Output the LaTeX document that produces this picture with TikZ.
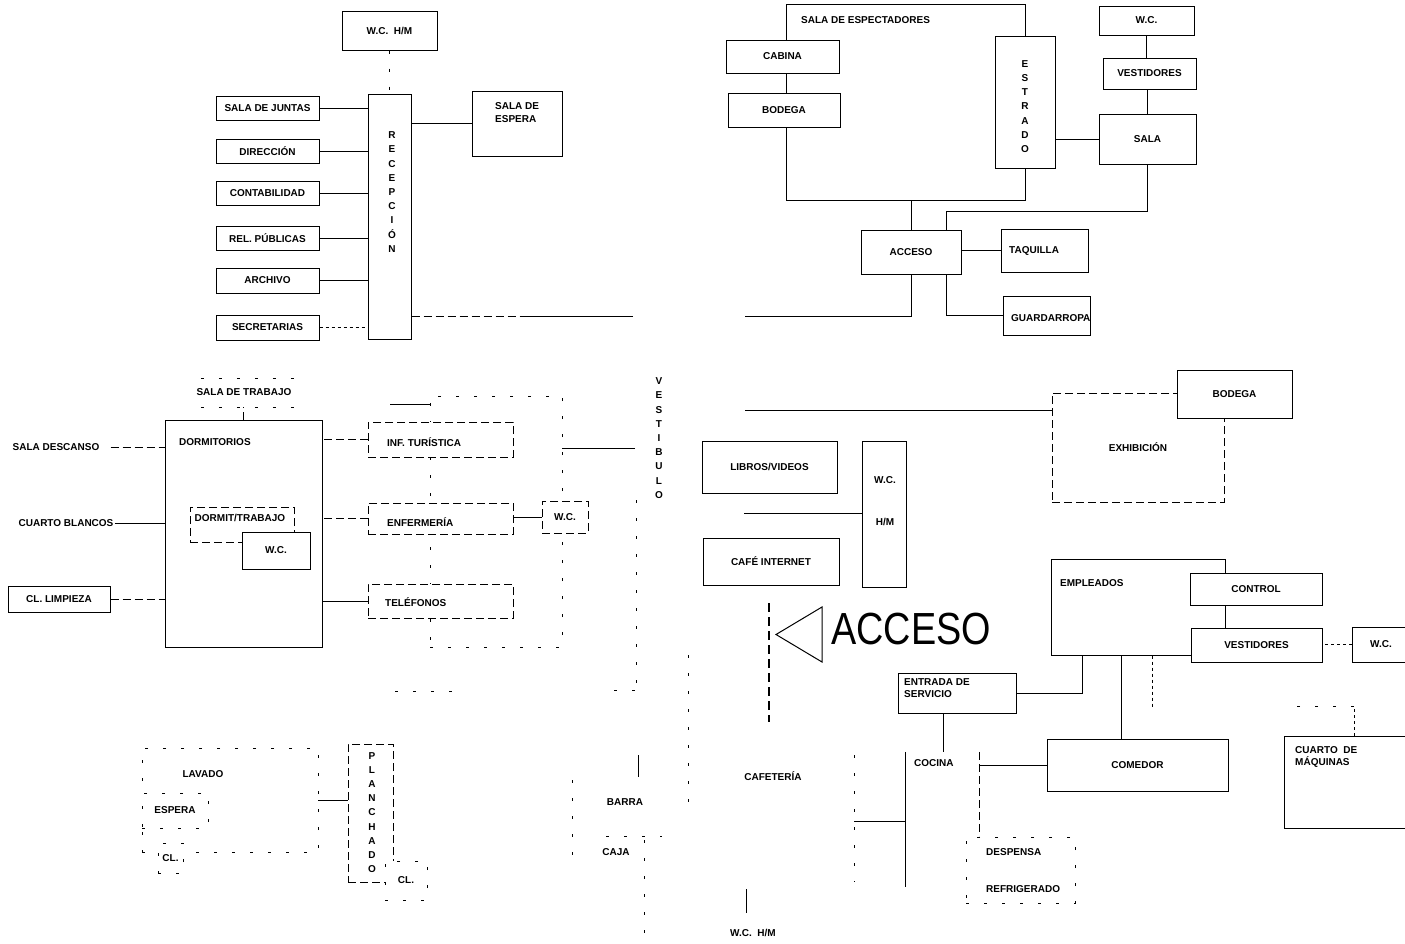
\documentclass[tikz,border=0pt]{standalone}
\usepackage{fontspec}
\setmainfont{Liberation Sans}
\newcommand{\boxfont}{\fontsize{10}{11.5}\selectfont\bfseries}
\newcommand{\colfont}{\fontsize{10}{14.2}\selectfont\bfseries}
\tikzset{
	box/.style={draw, line width=1pt, inner sep=0pt, fill=white, font=\boxfont},
	link/.style={line width=0.8pt},
	worn/.style={line width=0.9pt, dash pattern=on 8pt off 4pt},
	faint/.style={line width=0.8pt, dash pattern=on 3pt off 15pt},
	txt/.style={inner sep=1pt, font=\boxfont},
	vtxt/.style={inner sep=1pt, font=\colfont, align=center},
}
\begin{document}
\begin{tikzpicture}[x=1pt, y=-1pt]
	\useasboundingbox (0,0) rectangle (1405,943);
	%受付
	\node[box, minimum width=95pt, minimum height=39pt] (wcA) at (389.5,30.5) {W.C.~~H/M};
	\node[box, minimum width=43pt, minimum height=245pt] (rec) at (389.5,216.5) {};
	\node[vtxt] (recT) at (392,192) {R\\E\\C\\E\\P\\C\\I\\Ó\\N};
	\draw[faint] (wcA) -- (rec);
	\node[box, minimum width=103pt, minimum height=24pt] (jun) at (267.5,108) {SALA DE JUNTAS};
	\node[box, minimum width=103pt, minimum height=24pt] (dir) at (267.5,151) {DIRECCIÓN};
	\node[box, minimum width=103pt, minimum height=24pt] (con) at (267.5,193) {CONTABILIDAD};
	\node[box, minimum width=103pt, minimum height=24pt] (rel) at (267.5,238) {REL. PÚBLICAS};
	\node[box, minimum width=103pt, minimum height=25pt] (arc) at (267.5,280.5) {ARCHIVO};
	\node[box, minimum width=103pt, minimum height=25pt] (sec) at (267.5,327.5) {SECRETARIAS};
	\draw[link] (jun) -- (jun -| rec.west);
	\draw[link] (dir) -- (dir -| rec.west);
	\draw[link] (con) -- (con -| rec.west);
	\draw[link] (rel) -- (rel -| rec.west);
	\draw[link] (arc) -- (arc -| rec.west);
	\draw[link, dashed] (sec) -- (sec -| rec.west);
	%待合室
	\node[box, minimum width=90pt, minimum height=65pt] (esp) at (517,123.5) {};
	\node[txt, anchor=north west, align=left] (espT) at (494,101) {SALA DE\\[2pt]ESPERA};
	\draw[link] (esp) -- (esp -| rec.east);
	%玄関ホール
	\path (633,316) coordinate (vesA);
	\path (745,316) coordinate (accL);
	\draw[worn] (rec.east |- vesA) -- ++(115,0);
	\draw[link] (vesA) -- ++(-108,0);
	%観客席
	\node[box, minimum width=239pt, minimum height=196pt] (spec) at (905.5,102) {};
	\node[txt, anchor=west] (specT) at (800,20) {SALA DE ESPECTADORES};
	\node[box, minimum width=113pt, minimum height=33pt] (cab) at (782.5,56.5) {CABINA};
	\node[box, minimum width=112pt, minimum height=34pt] (bod) at (784,110) {BODEGA};
	\node[box, minimum width=60pt, minimum height=132pt] (est) at (1025,102) {};
	\node[vtxt] (estT) at (1025,106.5) {E\\S\\T\\R\\A\\D\\O};
	\node[box, minimum width=95pt, minimum height=29pt] (wcB) at (1146.5,20.5) {W.C.};
	\node[box, minimum width=93pt, minimum height=31pt] (vesB) at (1149.5,73.5) {VESTIDORES};
	\node[box, minimum width=97pt, minimum height=50pt] (sala) at (1147.5,139) {SALA};
	\draw[link] (wcB.south) -- (wcB.south |- vesB.north);
	\draw[link] (sala.north) -- (sala.north |- vesB.south);
	\draw[link] (sala) -- (sala -| est.east);
	%入口
	\node[box, minimum width=100pt, minimum height=44pt] (acc) at (911,252) {ACCESO};
	\draw[link] (acc.north) -- (acc.north |- spec.south);
	\path (946,211) coordinate (salaB);
	\draw[link] (sala.south) |- (salaB) -- (salaB |- acc.north);
	\node[box, minimum width=87pt, minimum height=43pt] (taq) at (1044.5,250.5) {};
	\node[txt, anchor=west] (taqT) at (1008,251) {TAQUILLA};
	\draw[link] (taq) -- (taq -| acc.east);
	\node[box, minimum width=87pt, minimum height=39pt] (gua) at (1046.5,315.5) {};
	\node[txt, anchor=west] (guaT) at (1010,318) {GUARDARROPA};
	\draw[link] (salaB |- acc.south) |- (gua);
	\draw[link] (acc.south) |- (accL);
	%寝室
	\node[minimum width=107pt, minimum height=28pt, inner sep=0pt] (trab) at (254.5,393) {};
	\node[txt] (trabT) at (244,392) {SALA DE TRABAJO};
	\draw[faint] (trab.north west) -- (trab.north east) (trab.south west) -- (trab.south east);
	\node[box, minimum width=157pt, minimum height=227pt] (dorm) at (243.5,533.5) {};
	\node[txt, anchor=west] (dormT) at (178,442) {DORMITORIOS};
	\draw[worn] (dorm.north) -- (dorm.north |- trab.south);
	\node[txt] (desc) at (56,447) {SALA DESCANSO};
	\draw[worn, shorten <=10pt] (desc) -- (desc -| dorm.west);
	\node[txt] (blan) at (66,523) {CUARTO BLANCOS};
	\draw[link] (blan) -- (blan -| dorm.west);
	\node[box, minimum width=102pt, minimum height=26pt] (limp) at (59,599) {CL. LIMPIEZA};
	\draw[worn] (limp) -- (limp -| dorm.west);
	\node[box, worn, minimum width=104pt, minimum height=35pt] (dtrab) at (242,524.5) {};
	\node[txt] (dtrabT) at (240,518) {DORMIT/TRABAJO};
	\node[box, line width=0.9pt, minimum width=68pt, minimum height=37pt] (wcC) at (276,550.5) {W.C.};
	%案内
	\node[box, faint, minimum width=132pt, minimum height=251pt] (pas) at (496,521.5) {};
	\node[box, worn, minimum width=145pt, minimum height=35pt] (inf) at (440.5,439.5) {};
	\node[txt, anchor=west] (infT) at (386,442) {INF. TURÍSTICA};
	\node[box, worn, minimum width=145pt, minimum height=31pt] (enf) at (440.5,518.5) {};
	\node[txt, anchor=west] (enfT) at (386,522) {ENFERMERÍA};
	\node[box, worn, minimum width=46pt, minimum height=32pt] (wcD) at (565,517) {W.C.};
	\node[box, worn, minimum width=145pt, minimum height=34pt] (tel) at (440.5,601) {};
	\node[txt, anchor=west] (telT) at (384,602) {TELÉFONOS};
	\draw[worn] (inf) -- (inf -| dorm.east);
	\draw[worn] (enf) -- (enf -| dorm.east);
	\draw[link] (tel) -- (tel -| dorm.east);
	\draw[link] (wcD.west) -- (wcD.west -| enf.east);
	\path (635,448) coordinate (vesM);
	\draw[link] (vesM) -- (vesM -| pas.east);
	\path (390,404) coordinate (pasL);
	\draw[link] (pasL) -- (pasL -| pas.west);
	\node[vtxt] (vesT) at (659,438) {V\\E\\S\\T\\I\\B\\U\\L\\O};
	\draw[faint] (636,500) -- (636,690);
	%展示
	\path (745,410) coordinate (vesN);
	\node[box, worn, minimum width=172pt, minimum height=109pt] (exh) at (1138,447.5) {EXHIBICIÓN};
	\node[box, minimum width=115pt, minimum height=48pt] (bodB) at (1234.5,394) {BODEGA};
	\draw[link] (vesN) -- (vesN -| exh.west);
	\node[box, minimum width=135pt, minimum height=52pt] (lib) at (769.5,467) {LIBROS/VIDEOS};
	\node[box, minimum width=44pt, minimum height=146pt] (wcE) at (884,514) {};
	\node[txt, align=center] (wcET) at (885,501) {W.C.\\[30pt]H/M};
	\path (744,513) coordinate (vesS);
	\draw[link] (vesS) -- (vesS -| wcE.west);
	\node[box, minimum width=136pt, minimum height=47pt] (caf) at (771,561.5) {CAFÉ INTERNET};
	%入口の矢印
	\path (769,603) coordinate (accA);
	\path (769,722) coordinate (accB);
	\draw[line width=1.2pt, dash pattern=on 9pt off 5pt] (accA) -- (accB);
	\draw[line width=1pt] (822,607) -- (776,634.5) -- (822,662) -- cycle;
	\node[anchor=west, inner sep=0pt, font=\fontsize{45}{45}\selectfont] (accT) at (831,629) {\scalebox{0.84}[1]{ACCESO}};
	%従業員
	\node[box, minimum width=174pt, minimum height=96pt] (emp) at (1138,607) {};
	\node[txt, anchor=west] (empT) at (1059,583) {EMPLEADOS};
	\node[box, minimum width=132pt, minimum height=32pt] (ctl) at (1256,589) {CONTROL};
	\node[box, minimum width=131pt, minimum height=34pt] (vesC) at (1256.5,645) {VESTIDORES};
	\node[box, minimum width=58pt, minimum height=35pt] (wcF) at (1381,644.5) {W.C.};
	\draw[link, dashed] (wcF) -- (wcF -| vesC.east);
	\node[box, minimum width=118pt, minimum height=40pt] (ent) at (957,693) {};
	\node[txt, anchor=north west, align=left] (entT) at (903,677) {ENTRADA DE\\[1pt]SERVICIO};
	\draw[link] ([xshift=-56pt]emp.south) |- (ent);
	\node[box, minimum width=181pt, minimum height=52pt] (com) at (1137.5,765) {COMEDOR};
	\draw[link] ([xshift=-17pt]emp.south) -- ([xshift=-17pt]emp.south |- com.north);
	\draw[link, dashed] ([xshift=14pt]emp.south) -- ++(0,52);
	%台所
	\node[minimum width=73pt, minimum height=135pt, inner sep=0pt] (coc) at (942.5,819.5) {};
	\draw[link] (coc.north west) -- (coc.south west);
	\draw[worn] (coc.north east) -- ([yshift=-84pt]coc.north east);
	\node[txt, anchor=west] (cocT) at (913,763) {COCINA};
	\draw[link] ([xshift=-14pt]ent.south) -- ([xshift=-14pt]ent.south |- coc.north);
	\draw[link] (com) -- (com -| coc.east);
	\path (854,821) coordinate (cafR);
	\draw[link] (cafR) -- (cafR -| coc.west);
	\draw[faint] (854,755) -- (854,882);
	\draw[faint] (688,655) -- (688,815);
	\node[txt] (cafT) at (773,776) {CAFETERÍA};
	\node[box, faint, minimum width=109pt, minimum height=66pt] (desp) at (1020.5,870) {};
	\node[txt, anchor=west] (despT) at (985,852) {DESPENSA};
	\node[txt, anchor=west] (refT) at (985,889) {REFRIGERADO};
	\node[txt] (wcGT) at (753,933) {W.C.~~H/M};
	\path (746,889) coordinate (cafB);
	\draw[link] (cafB) -- ++(0,24);
	%機械室
	\node[box, minimum width=126pt, minimum height=92pt] (maq) at (1347,782) {};
	\node[txt, anchor=north west, align=left] (maqT) at (1294,745) {CUARTO~~DE\\[1pt]MÁQUINAS};
	\draw[link, dashed] ([xshift=7pt]maq.north) -- ++(0,-29);
	\draw[faint] ([xshift=7pt]maq.north) ++(0,-29) -- ++(-62,0);
	%洗濯
	\node[box, faint, minimum width=176pt, minimum height=104pt] (lav) at (230,800) {};
	\node[txt] (lavT) at (203,774) {LAVADO};
	\node[box, faint, minimum width=66pt, minimum height=35pt] (espL) at (175,810.5) {ESPERA};
	\node[box, faint, minimum width=25pt, minimum height=30pt] (clL) at (170.5,858) {CL.};
	\node[box, worn, minimum width=45pt, minimum height=138pt] (plan) at (370.5,813) {};
	\node[vtxt] (planT) at (372,812.5) {P\\L\\A\\N\\C\\H\\A\\D\\O};
	\draw[link] (plan.west |- lav) -- (lav);
	\node[box, faint, minimum width=42pt, minimum height=39pt] (clP) at (406,880.5) {CL.};
	\draw[faint] (395,691) -- (457,691);
	\draw[faint] (614,690) -- (640,690);
	%バー
	\node[txt] (barT) at (625,802) {BARRA};
	\node[txt] (cajT) at (616,852) {CAJA};
	\draw[faint] (572,780) -- (572,865);
	\draw[link] (638,755) -- (638,777);
	\draw[faint] (644,840) -- (644,943);
	\draw[faint] (606,836) -- (662,836);
\end{tikzpicture}
\end{document}
